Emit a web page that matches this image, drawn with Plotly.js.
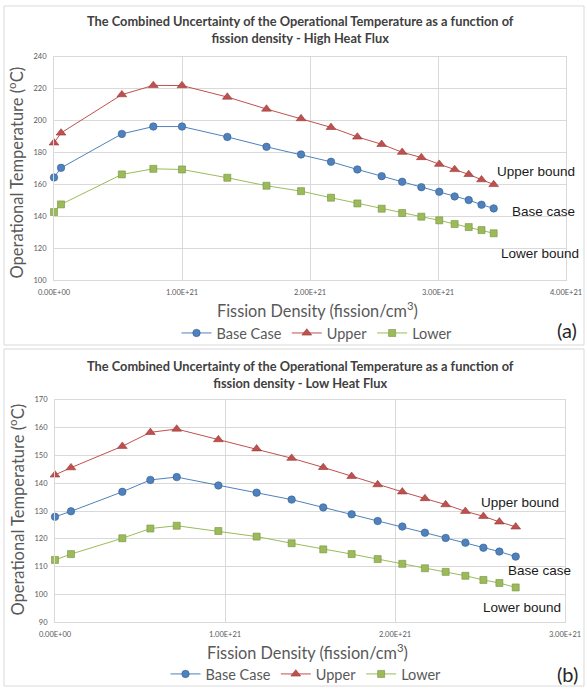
<!DOCTYPE html>
<html>
<head>
<meta charset="utf-8">
<script src="https://cdn.plot.ly/plotly-3.0.1.min.js"></script>
<style>html,body{margin:0;padding:0;background:#fff;}#chart{width:587px;height:690px;}</style>
</head>
<body>
<div id="chart"></div>
<script>
// ---- data ----
const xHigh = [0, 0.055e21, 0.53e21, 0.776e21, 1.0e21, 1.354e21, 1.66e21, 1.93e21, 2.164e21, 2.37e21, 2.56e21, 2.72e21, 2.87e21, 3.01e21, 3.13e21, 3.24e21, 3.34e21, 3.435e21];
const baseHigh  = [164.4,170.4,191.7,196.3,196.3,189.8,183.6,178.8,174.2,169.4,165.2,161.7,158.3,155.4,152.5,150.2,147.3,145.0];
const upperHigh = [186.1,192.3,216.3,222.1,222.0,214.8,207.3,201.3,195.8,189.8,185.2,180.2,176.9,172.7,169.4,166.3,163.0,160.0];
const lowerHigh = [142.7,147.5,166.3,169.8,169.4,164.2,159.2,155.8,151.7,148.1,144.8,142.1,139.8,137.5,135.2,133.3,131.4,129.4];

const xLow = [0, 0.094e21, 0.396e21, 0.561e21, 0.716e21, 0.961e21, 1.186e21, 1.392e21, 1.578e21, 1.745e21, 1.898e21, 2.043e21, 2.176e21, 2.298e21, 2.414e21, 2.52e21, 2.614e21, 2.71e21];
const upperLow = [143.0,145.6,153.3,158.3,159.5,155.7,152.4,149.0,145.7,142.5,139.5,136.9,134.5,132.3,129.9,128.1,126.1,124.3];
const baseLow  = [127.9,129.9,136.9,141.2,142.2,139.2,136.6,134.1,131.3,128.8,126.4,124.4,122.2,120.3,118.6,116.8,115.4,113.6];
const lowerLow = [112.4,114.5,120.2,123.7,124.7,122.8,120.8,118.4,116.2,114.5,112.7,111.0,109.4,108.1,106.7,105.2,104.1,102.5];

const xTickValsHigh = [0, 1e21, 2e21, 3e21, 4e21];
const xTickTextHigh = ["0.00E+00","1.00E+21","2.00E+21","3.00E+21","4.00E+21"];
const xTickValsLow = [0, 1e21, 2e21, 3e21];
const xTickTextLow = ["0.00E+00","1.00E+21","2.00E+21","3.00E+21"];
const yTicksHigh = [100,120,140,160,180,200,220,240];
const yTicksLow = [90,100,110,120,130,140,150,160,170];

const seriesNames = ["Base Case","Upper","Lower"];
const titleHigh = "The Combined Uncertainty of the Operational Temperature as a function of<br>fission density - High Heat Flux";
const titleLow = "The Combined Uncertainty of the Operational Temperature as a function of<br>fission density - Low Heat Flux";
const xTitle = "Fission Density (fission/cm<sup>3</sup>)";
const yTitle = "Operational Temperature (<sup>o</sup>C)";

// ---- styling ----
const W = 587, H = 690;
const px = v => v / W;
const py = v => 1 - v / H;
const FONT = "Lato, 'Open Sans', sans-serif";
const ARIAL = "'Liberation Sans', Arial, sans-serif";
const styles = [
  {line:'#4f81bd', fill:'#4f81bd', edge:'#355f91', symbol:'circle', size:7.5},
  {line:'#c0504d', fill:'#c0504d', edge:'#943c3a', symbol:'triangle-up', size:8.5},
  {line:'#9bbb59', fill:'#9bbb59', edge:'#77913f', symbol:'square', size:7}
];

function tr(x, y, i, xa, ya, leg) {
  const s = styles[i];
  return {
    x: x, y: y, type:'scatter', mode:'lines+markers', name: seriesNames[i],
    xaxis: xa, yaxis: ya, legend: leg, cliponaxis:false,
    line:{color:s.line, width:1},
    marker:{symbol:s.symbol, size:s.size, color:s.fill, line:{color:s.edge, width:0.6}}
  };
}

const data = [
  tr(xHigh, baseHigh, 0, 'x', 'y', 'legend'),
  tr(xHigh, upperHigh, 1, 'x', 'y', 'legend'),
  tr(xHigh, lowerHigh, 2, 'x', 'y', 'legend'),
  tr(xLow, baseLow, 0, 'x2', 'y2', 'legend2'),
  tr(xLow, upperLow, 1, 'x2', 'y2', 'legend2'),
  tr(xLow, lowerLow, 2, 'x2', 'y2', 'legend2')
];

const axCommon = {
  showgrid:true, gridcolor:'#d9d9d9', gridwidth:1,
  showline:true, linecolor:'#d9d9d9', linewidth:1, mirror:true,
  zeroline:false, ticks:'', tickfont:{family:FONT, size:7.5, color:'#595959'},
  fixedrange:true
};
const xAx = Object.assign({}, axCommon, {ticklabelstandoff:5});
const yAx = Object.assign({}, axCommon, {ticklabelstandoff:5});

const layout = {
  width: W, height: H,
  margin:{l:0, r:0, t:0, b:0},
  paper_bgcolor:'#ffffff', plot_bgcolor:'#ffffff',
  font:{family:FONT},
  xaxis: Object.assign({}, xAx, {domain:[px(54), px(566)], range:[0,4e21], tickmode:'array', tickvals:xTickValsHigh, ticktext:xTickTextHigh, anchor:'y'}),
  yaxis: Object.assign({}, yAx, {domain:[py(281), py(57)], range:[100,240], tickmode:'array', tickvals:yTicksHigh, anchor:'x'}),
  xaxis2: Object.assign({}, xAx, {domain:[px(55), px(565)], range:[0,3e21], tickmode:'array', tickvals:xTickValsLow, ticktext:xTickTextLow, anchor:'y2'}),
  yaxis2: Object.assign({}, yAx, {domain:[py(624), py(401)], range:[90,170], tickmode:'array', tickvals:yTicksLow, anchor:'x2'}),
  legend:{orientation:'h', x:px(317), xanchor:'center', y:py(334), yanchor:'middle', font:{family:FONT, size:14.5, color:'#595959'}, bgcolor:'rgba(0,0,0,0)', itemwidth:30, tracegroupgap:0},
  legend2:{orientation:'h', x:px(306), xanchor:'center', y:py(676), yanchor:'middle', font:{family:FONT, size:14.5, color:'#595959'}, bgcolor:'rgba(0,0,0,0)', itemwidth:30, tracegroupgap:0},
  showlegend:true,
  shapes:[
    {type:'rect', xref:'paper', yref:'paper', x0:px(4), x1:px(584), y0:py(346), y1:py(6), line:{color:'#d9d9d9', width:1}},
    {type:'rect', xref:'paper', yref:'paper', x0:px(4), x1:px(584), y0:py(688), y1:py(350), line:{color:'#d9d9d9', width:1}}
  ],
  annotations:[
    {text:titleHigh, xref:'paper', yref:'paper', x:px(300), y:py(29.5), xanchor:'center', yanchor:'middle', showarrow:false, font:{family:FONT, size:12.8, color:'#404040', weight:'bold'}},
    {text:titleLow, xref:'paper', yref:'paper', x:px(300), y:py(376), xanchor:'center', yanchor:'middle', showarrow:false, font:{family:FONT, size:12.8, color:'#404040', weight:'bold'}},
    {text:xTitle, xref:'paper', yref:'paper', x:px(317), y:py(310), xanchor:'center', yanchor:'middle', showarrow:false, font:{family:FONT, size:16.3, color:'#595959'}},
    {text:xTitle, xref:'paper', yref:'paper', x:px(307), y:py(653), xanchor:'center', yanchor:'middle', showarrow:false, font:{family:FONT, size:16.3, color:'#595959'}},
    {text:yTitle, xref:'paper', yref:'paper', x:px(17), y:py(173), xanchor:'center', yanchor:'middle', textangle:-90, showarrow:false, font:{family:FONT, size:16.5, color:'#595959'}},
    {text:yTitle, xref:'paper', yref:'paper', x:px(17), y:py(511), xanchor:'center', yanchor:'middle', textangle:-90, showarrow:false, font:{family:FONT, size:16.5, color:'#595959'}},
    {text:'(a)', xref:'paper', yref:'paper', x:px(567), y:py(331), xanchor:'center', yanchor:'middle', showarrow:false, font:{family:FONT, size:20, color:'#262626'}},
    {text:'(b)', xref:'paper', yref:'paper', x:px(567), y:py(676), xanchor:'center', yanchor:'middle', showarrow:false, font:{family:FONT, size:20, color:'#262626'}},
    {text:'Upper bound', xref:'paper', yref:'paper', x:px(536), y:py(172), xanchor:'center', yanchor:'middle', showarrow:false, font:{family:ARIAL, size:13.5, color:'#1a1a1a'}},
    {text:'Base case', xref:'paper', yref:'paper', x:px(543), y:py(212), xanchor:'center', yanchor:'middle', showarrow:false, font:{family:ARIAL, size:13.5, color:'#1a1a1a'}},
    {text:'Lower bound', xref:'paper', yref:'paper', x:px(540), y:py(254), xanchor:'center', yanchor:'middle', showarrow:false, font:{family:ARIAL, size:13.5, color:'#1a1a1a'}},
    {text:'Upper bound', xref:'paper', yref:'paper', x:px(520), y:py(504), xanchor:'center', yanchor:'middle', showarrow:false, font:{family:ARIAL, size:13.5, color:'#1a1a1a'}},
    {text:'Base case', xref:'paper', yref:'paper', x:px(539), y:py(572), xanchor:'center', yanchor:'middle', showarrow:false, font:{family:ARIAL, size:13.5, color:'#1a1a1a'}},
    {text:'Lower bound', xref:'paper', yref:'paper', x:px(522), y:py(609), xanchor:'center', yanchor:'middle', showarrow:false, font:{family:ARIAL, size:13.5, color:'#1a1a1a'}}
  ]
};

Plotly.newPlot('chart', data, layout, {staticPlot:true, displayModeBar:false});
</script>
</body>
</html>
